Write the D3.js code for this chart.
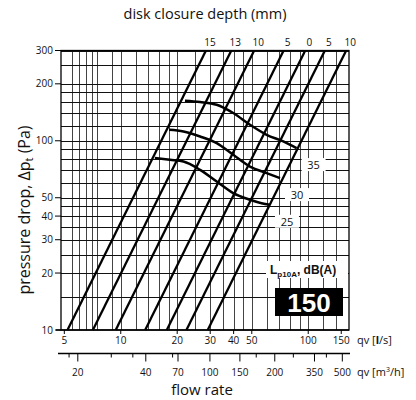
<!DOCTYPE html>
<html>
<head>
<meta charset="utf-8">
<script src="https://cdn.jsdelivr.net/npm/d3@7"></script>
<style>
  body { margin: 0; background: #fff; }
  svg { display: block; }
  text { font-family: "Open Sans", sans-serif; fill: #111; }
</style>
</head>
<body>
<script>
// disk closure lines, with the flow (l/s) where each one crosses 10 Pa
var closureLabels = ["15", "13", "10", "5", "0", "5", "10"];
var flowAt10Pa = [5.2, 7.1, 9.4, 13.5, 17.6, 22.4, 29.1];

// sound level curves Lp10A dB(A)
var soundLevels = [35, 30, 25];
var soundFlow = [
  [22.0, 26.5, 32.5, 39.8, 48.9, 60.0, 73.6, 86.7],
  [18.1, 21.6, 26.5, 32.5, 39.8, 48.9, 60.0, 70.7],
  [15.2, 18.3, 21.6, 26.5, 32.5, 39.8, 48.9, 56.4, 62.5]
];
var soundPressure = [
  [162.8, 160.3, 155.0, 140.2, 121.5, 107.6, 99.2, 91.5],
  [114.3, 112.0, 105.4, 97.2, 84.3, 73.1, 67.5, 63.5],
  [81.0, 79.3, 77.7, 70.2, 60.9, 52.9, 48.8, 46.8, 45.9]
];

// axes
var yTicks = [10, 20, 30, 40, 50, 100, 200, 300];
var yGrid = [15, 20, 25, 30, 35, 40, 45, 50, 60, 70, 80, 90, 100, 120, 140, 160, 180, 200, 250, 300];
var xTicks = [5, 10, 20, 30, 40, 50, 100, 150];
var xGrid = [5.5, 6, 6.5, 7, 7.5, 9, 10, 12, 14, 16, 18, 20, 25, 30, 35, 40, 45, 50, 60, 70, 80, 90, 100, 120, 140];
var m3hLabels = [20, 40, 70, 100, 150, 200, 350, 500];
var m3hAtLs = [5.9, 13.6, 20.2, 29.9, 43.2, 66.3, 108, 152];   // where each m3/h tick sits on the l/s scale
var m3hMinorAtLs = [5.3, 8.9, 11.6, 18.9, 52.8, 83.3, 125];

var width = 416, height = 400;
var plotL = 61, plotR = 349, plotT = 50.5, plotB = 330;

var svg = d3.select("body").append("svg")
  .attr("width", width)
  .attr("height", height);

var x = d3.scaleLog().domain([4.8, 165]).range([plotL, plotR]);
var y = d3.scaleLog().domain([10, 300]).range([plotB, plotT]);

// grid
var grid = svg.append("g");
grid.selectAll(".vg").data(xGrid).enter().append("line")
  .attr("x1", d => Math.round(x(d)) + 0.5).attr("x2", d => Math.round(x(d)) + 0.5)
  .attr("y1", plotT).attr("y2", plotB)
  .attr("stroke", "#444").attr("stroke-width", 1);
grid.selectAll(".hg").data(yGrid).enter().append("line")
  .attr("y1", d => Math.round(y(d)) + 0.5).attr("y2", d => Math.round(y(d)) + 0.5)
  .attr("x1", plotL).attr("x2", plotR)
  .attr("stroke", "#111").attr("stroke-width", 1);

// frame
svg.append("rect")
  .attr("x", plotL).attr("y", plotT)
  .attr("width", plotR - plotL).attr("height", plotB - plotT)
  .attr("fill", "none").attr("stroke", "#000").attr("stroke-width", 1.3);

// y axis ticks and labels
svg.append("g").selectAll("line").data(yTicks).enter().append("line")
  .attr("x1", plotL - 6).attr("x2", plotL)
  .attr("y1", d => y(d)).attr("y2", d => y(d))
  .attr("stroke", "#000");
svg.append("g").selectAll("text").data(yTicks).enter().append("text")
  .attr("x", plotL - 8).attr("y", d => y(d) + 3.5)
  .attr("text-anchor", "end")
  .style("font-size", "10px")
  .text(d => d);

// x axis (l/s)
svg.append("line").attr("x1", 56).attr("x2", plotR).attr("y1", plotB).attr("y2", plotB)
  .attr("stroke", "#000").attr("stroke-width", 1.3);
svg.append("g").selectAll("line").data(xTicks).enter().append("line")
  .attr("x1", d => x(d)).attr("x2", d => x(d))
  .attr("y1", plotB).attr("y2", plotB + 4)
  .attr("stroke", "#000");
svg.append("g").selectAll("text").data(xTicks).enter().append("text")
  .attr("x", d => x(d)).attr("y", 344)
  .attr("text-anchor", "middle")
  .style("font-size", "10px")
  .text(d => d);
var qls = svg.append("text").attr("x", 357).attr("y", 344).style("font-size", "11px");
qls.append("tspan").text("qv [");
qls.append("tspan").style("font-weight", "bold").text("l");
qls.append("tspan").text("/s]");

// second axis (m3/h)
var axis2y = 353.5;
svg.append("line").attr("x1", 58).attr("x2", 350).attr("y1", axis2y).attr("y2", axis2y)
  .attr("stroke", "#000").attr("stroke-width", 1.3);
svg.append("g").selectAll("line").data(m3hAtLs).enter().append("line")
  .attr("x1", d => x(d)).attr("x2", d => x(d))
  .attr("y1", axis2y).attr("y2", axis2y + 8)
  .attr("stroke", "#000");
svg.append("g").selectAll("line").data(m3hMinorAtLs).enter().append("line")
  .attr("x1", d => x(d)).attr("x2", d => x(d))
  .attr("y1", axis2y).attr("y2", axis2y + 4)
  .attr("stroke", "#000");
svg.append("g").selectAll("text").data(m3hLabels).enter().append("text")
  .attr("x", (d, i) => x(m3hAtLs[i])).attr("y", 376)
  .attr("text-anchor", "middle")
  .style("font-size", "10px")
  .text(d => d);
var qm = svg.append("text").attr("x", 357).attr("y", 376).style("font-size", "11px");
qm.append("tspan").text("qv [m");
qm.append("tspan").attr("dy", -4).style("font-size", "7px").text("3");
qm.append("tspan").attr("dy", 4).text("/h]");

svg.append("text").attr("x", 202).attr("y", 395)
  .attr("text-anchor", "middle").style("font-size", "15px")
  .text("flow rate");

// titles
svg.append("text").attr("x", 205).attr("y", 19)
  .attr("text-anchor", "middle").style("font-size", "14.5px")
  .text("disk closure depth (mm)");

var yt = svg.append("text")
  .attr("transform", "translate(30,210) rotate(-90)")
  .attr("text-anchor", "middle").style("font-size", "16px");
yt.append("tspan").text("pressure drop, \u0394p");
yt.append("tspan").attr("dy", 3).style("font-size", "11px").text("t");
yt.append("tspan").attr("dy", -3).text(" (Pa)");

// disk closure lines: p grows with q squared
var pressLine = d3.line().x(d => x(d[0])).y(d => y(d[1]));
var lineG = svg.append("g");
flowAt10Pa.forEach(function (q10, i) {
  var qTop = q10 * Math.sqrt(300 / 10);
  lineG.append("path")
    .attr("d", pressLine([[q10, 10], [qTop, 300]]))
    .attr("fill", "none").attr("stroke", "#000").attr("stroke-width", 2.3);
  lineG.append("text")
    .attr("x", x(qTop) + 4).attr("y", 46)
    .attr("text-anchor", "middle").style("font-size", "10px")
    .text(closureLabels[i]);
});

// sound curves
var soundLine = d3.line().x(d => x(d[0])).y(d => y(d[1])).curve(d3.curveMonotoneX);
soundLevels.forEach(function (lvl, i) {
  var pts = soundFlow[i].map((q, j) => [q, soundPressure[i][j]]);
  svg.append("path")
    .attr("d", soundLine(pts))
    .attr("fill", "none").attr("stroke", "#000").attr("stroke-width", 2.5);
  var last = pts[pts.length - 1];
  var lx = x(last[0]) + 17, ly = y(last[1]) + 17;
  svg.append("rect")
    .attr("x", lx - 12).attr("y", ly - 7)
    .attr("width", 24).attr("height", 13)
    .attr("fill", "#fff");
  svg.append("text")
    .attr("x", lx).attr("y", ly + 4)
    .attr("text-anchor", "middle").style("font-size", "11px")
    .text(lvl);
});

// legend box
svg.append("rect").attr("x", 266).attr("y", 261).attr("width", 82).attr("height", 17).attr("fill", "#fff");
var lp = svg.append("text").attr("x", 270).attr("y", 274)
  .style("font-family", "'Liberation Sans', Arial, sans-serif")
  .style("font-weight", "bold").style("font-size", "12px");
lp.append("tspan").text("L");
lp.append("tspan").attr("dy", 3).style("font-size", "8px").text("p10A");
lp.append("tspan").attr("dy", -3).text(", dB(A)");

svg.append("rect").attr("x", 275).attr("y", 288).attr("width", 68).attr("height", 28).attr("fill", "#000");
svg.append("text").attr("x", 309).attr("y", 312)
  .attr("text-anchor", "middle")
  .style("font-family", "'Liberation Sans', Arial, sans-serif")
  .style("font-weight", "bold").style("font-size", "26px")
  .style("fill", "#fff")
  .text("150");
</script>
</body>
</html>
